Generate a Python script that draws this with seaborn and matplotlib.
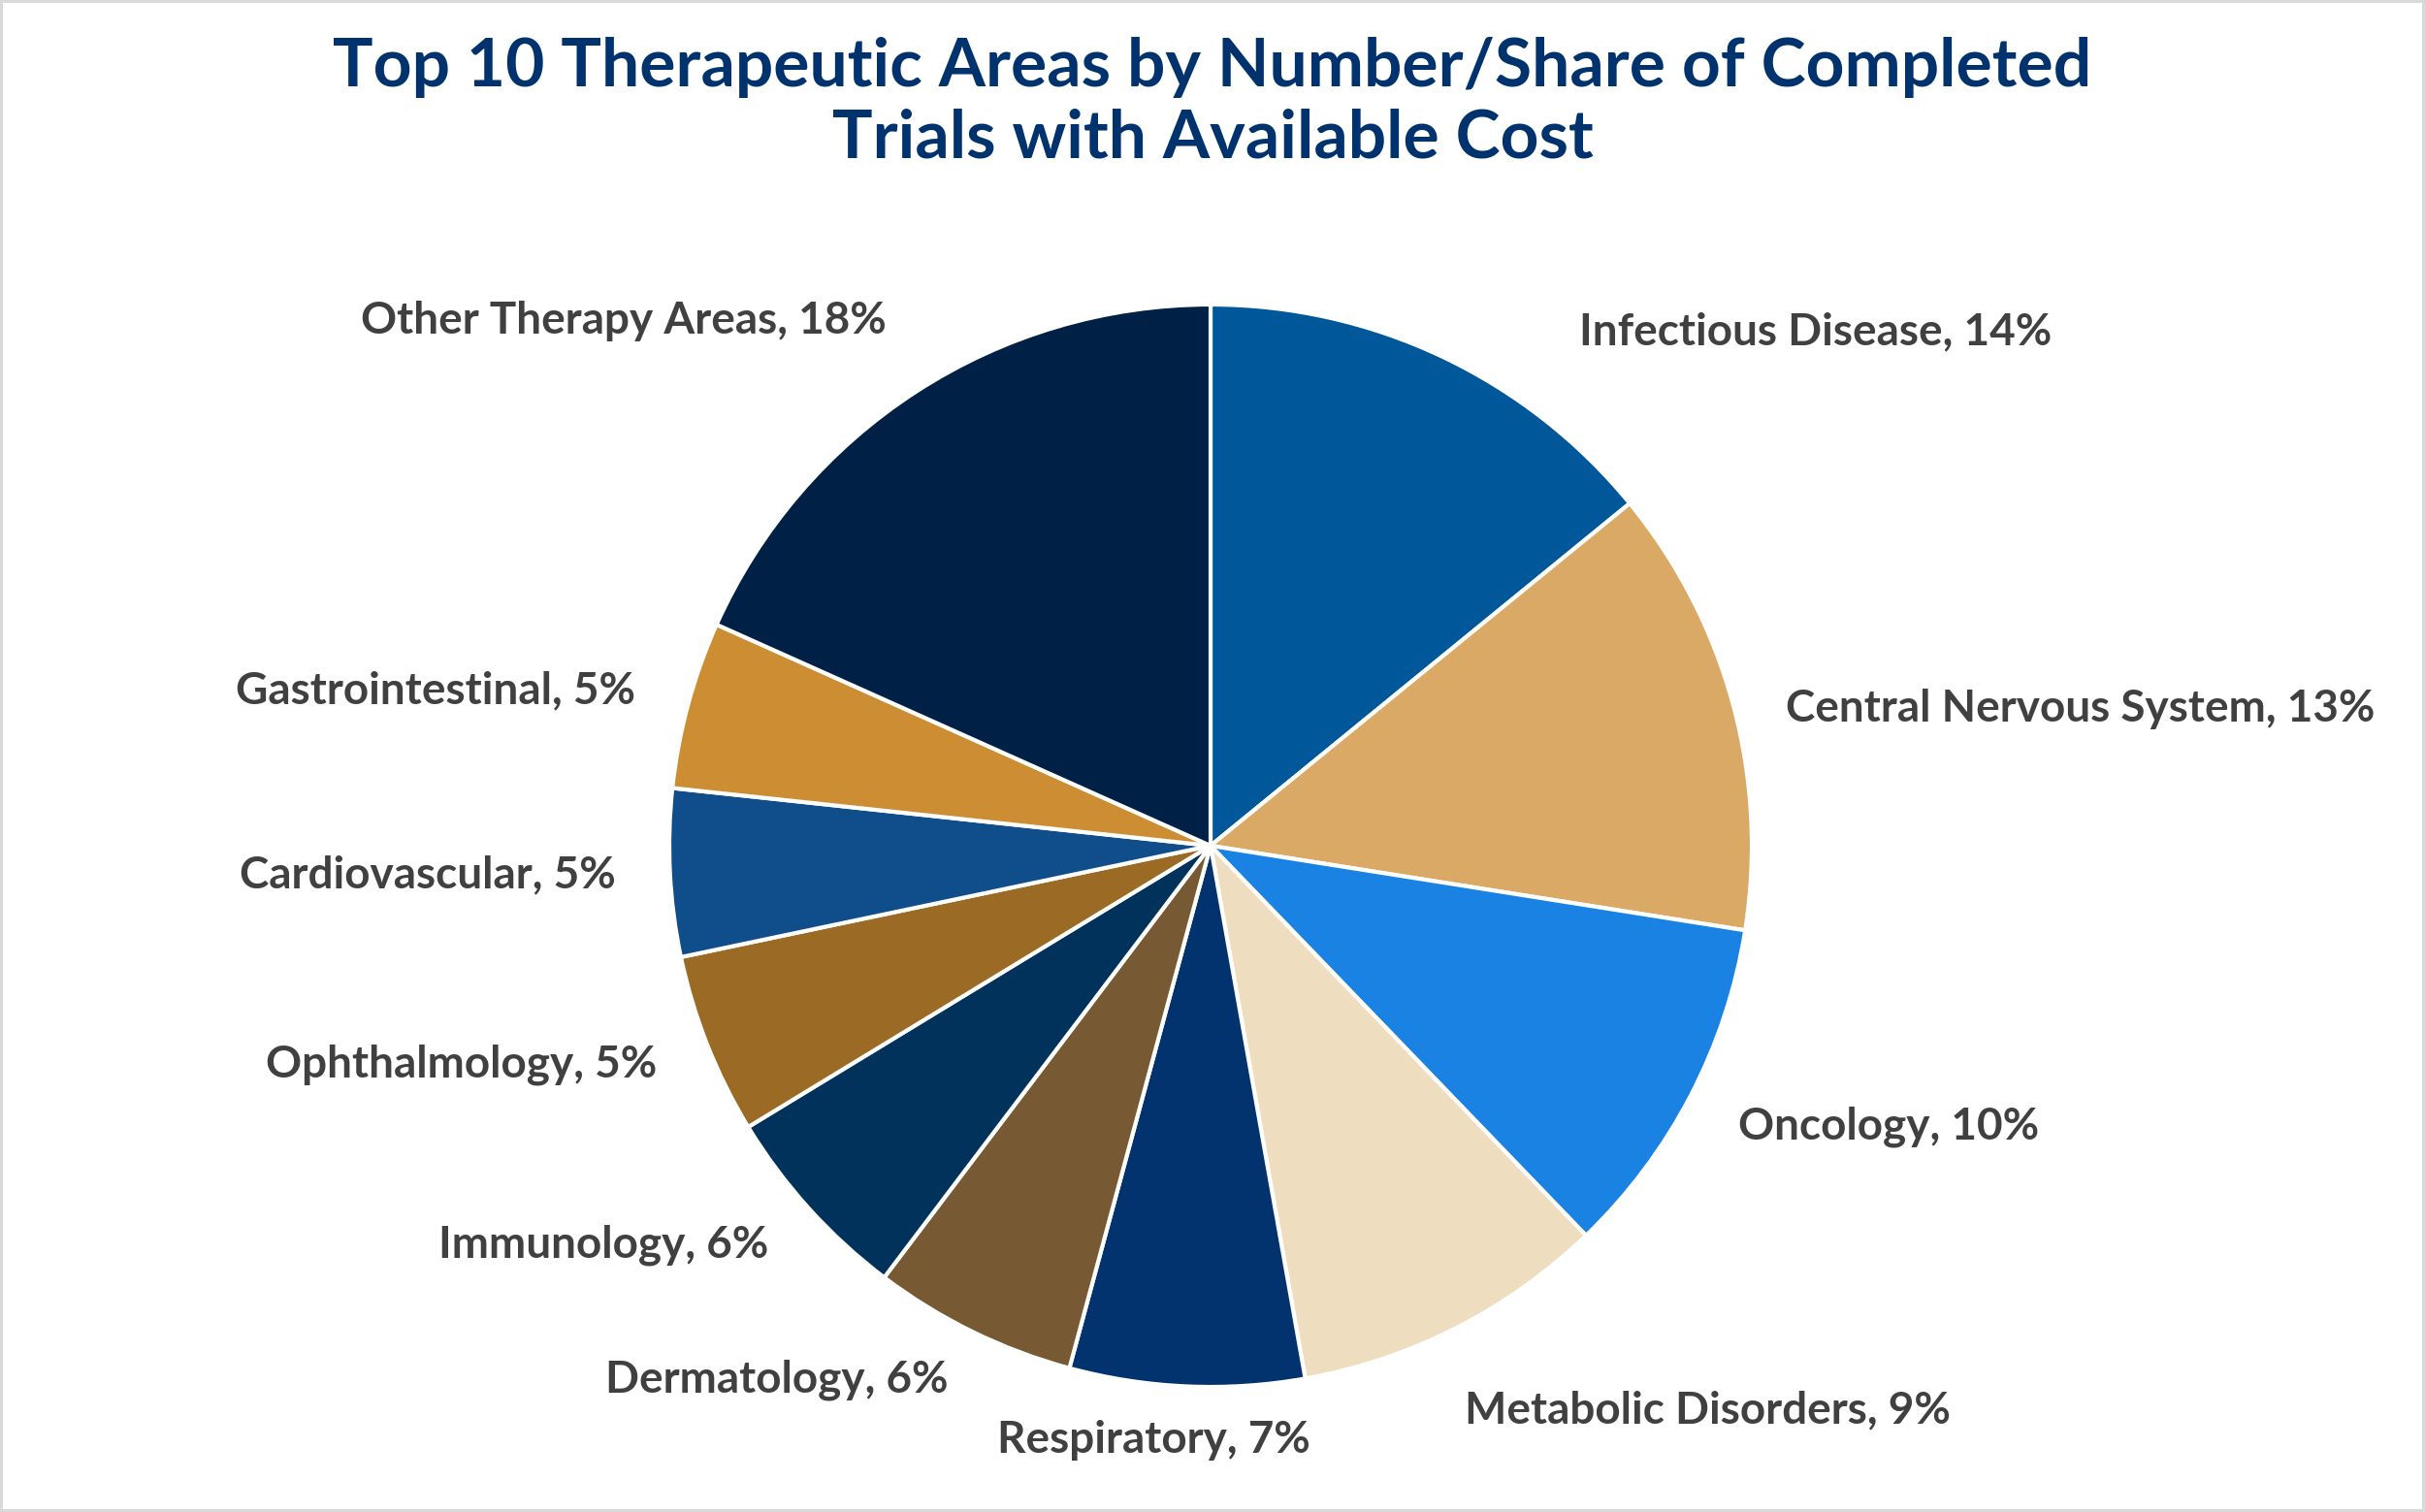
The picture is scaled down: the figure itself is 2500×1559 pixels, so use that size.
import matplotlib
matplotlib.use("Agg")
import matplotlib.pyplot as plt
import seaborn as sns

# share of completed trials with available cost (%)
areas = [
    "Infectious Disease", "Central Nervous System", "Oncology",
    "Metabolic Disorders", "Respiratory", "Dermatology", "Immunology",
    "Ophthalmology", "Cardiovascular", "Gastrointestinal", "Other Therapy Areas",
]
shares = [14.1, 13.4, 10.3, 9.4, 7.0, 6.1, 6.0, 5.4, 5.0, 5.0, 18.3]
colors = [
    "#00589b", "#dba966", "#1a82e3", "#efddc0", "#03336f", "#775a33",
    "#00325b", "#9b6a24", "#104e8b", "#cd8d33", "#002045",
]

sns.set_theme(style="white")
plt.rcParams["font.family"] = ["Lato", "DejaVu Sans"]

W, H = 2500, 1559
fig = plt.figure(figsize=(W / 100, H / 100), dpi=100,
                 facecolor="white", edgecolor="#d9d9d9", linewidth=3)
ax = fig.add_axes([0, 0, 1, 1])

labels = [f"{a}, {round(s)}%" for a, s in zip(areas, shares)]
wedges, texts = ax.pie(
    shares, labels=labels, colors=colors, startangle=90, counterclock=False,
    labeldistance=1.1,
    wedgeprops=dict(edgecolor="white", linewidth=3),
    textprops=dict(fontsize=33, fontweight="bold", color="#404040"),
)
# Excel-style label placement tweaks (in pie-radius units)
nudges = {
    "Infectious Disease": (0.21, -0.045),
    "Central Nervous System": (0.0, -0.034),
    "Oncology": (0.0, -0.01),
    "Metabolic Disorders": (-0.03, -0.063),
    "Respiratory": (-0.057, 0.0),
    "Other Therapy Areas": (0.0, 0.046),
}
for t, a in zip(texts, areas):
    if a == "Respiratory":
        t.set_ha("center")
    dx, dy = nudges.get(a, (0, 0))
    x, y = t.get_position()
    t.set_position((x + dx, y + dy))

# pie centre at (1248, 872) px from top-left, radius 558 px
cx, cy, r = 1248, 872, 558
ax.set_xlim(-cx / r, (W - cx) / r)
ax.set_ylim(-(H - cy) / r, cy / r)
ax.set_aspect("auto")
ax.axis("off")

fig.text(0.5, 1 - 106 / H,
         "Top 10 Therapeutic Areas by Number/Share of Completed\nTrials with Available Cost",
         ha="center", va="center", fontsize=50, fontweight="bold", color="#00336e",
         linespacing=1.2)

fig.savefig("out.png", dpi=100)
